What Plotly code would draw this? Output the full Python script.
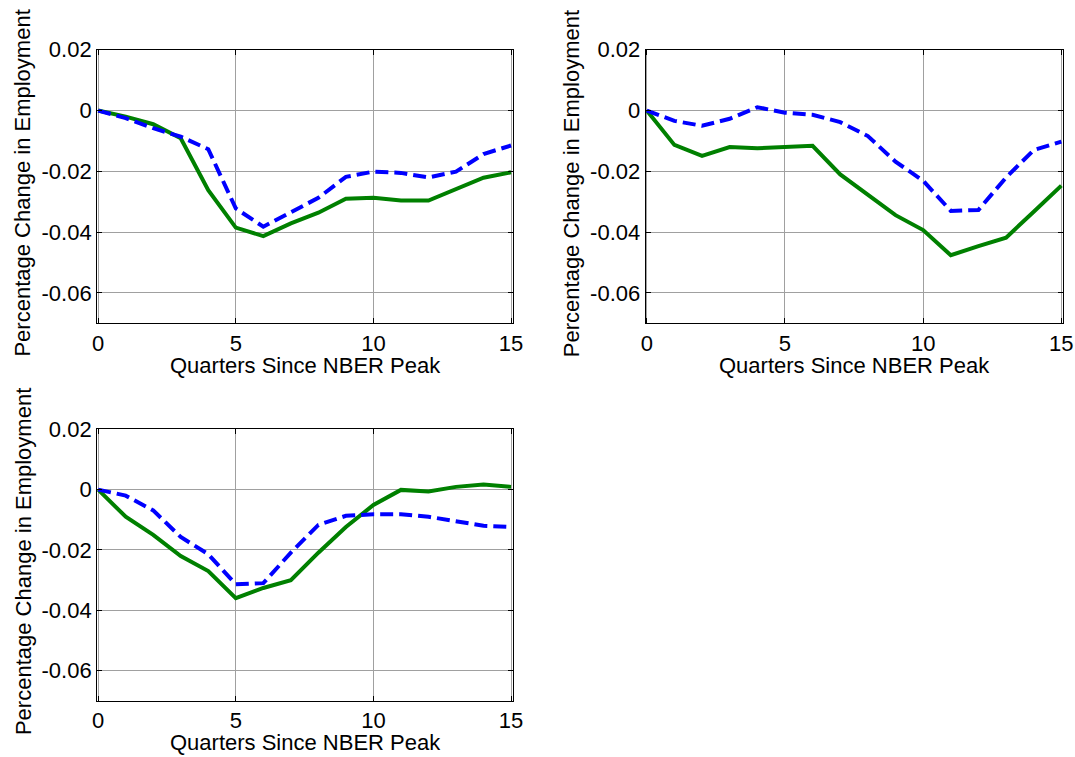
import plotly.graph_objects as go

quarters = list(range(16))

p1_solid = [0, -0.0020, -0.0045, -0.0091, -0.0262, -0.0385, -0.0413, -0.0371,
            -0.0336, -0.0290, -0.0287, -0.0296, -0.0296, -0.0260, -0.0221, -0.0203]
p1_dash = [0, -0.0025, -0.0058, -0.0086, -0.0127, -0.0322, -0.0382, -0.0336,
           -0.0287, -0.0218, -0.0201, -0.0205, -0.0220, -0.0201, -0.0143, -0.0115]

p2_solid = [0, -0.0113, -0.0149, -0.0120, -0.0124, -0.0121, -0.0116, -0.0210,
            -0.0276, -0.0344, -0.0393, -0.0476, -0.0446, -0.0418, -0.0333, -0.0247]
p2_dash = [0, -0.0034, -0.0050, -0.0027, 0.0011, -0.0007, -0.0014, -0.0038,
           -0.0084, -0.0168, -0.0231, -0.0330, -0.0327, -0.0220, -0.0130, -0.0102]

p3_solid = [0, -0.0090, -0.0150, -0.0220, -0.0270, -0.0360, -0.0326, -0.0300,
            -0.0209, -0.0124, -0.0051, -0.0001, -0.0006, 0.0009, 0.0017, 0.0009]
p3_dash = [0, -0.0020, -0.0069, -0.0157, -0.0214, -0.0314, -0.0310, -0.0209,
           -0.0117, -0.0087, -0.0082, -0.0082, -0.0090, -0.0104, -0.0120, -0.0124]

x_ticks = [0, 5, 10, 15]
y_ticks = [-0.06, -0.04, -0.02, 0, 0.02]
y_tick_labels = ["-0.06", "-0.04", "-0.02", "0", "0.02"]
x_title = "Quarters Since NBER Peak"
y_title = "Percentage Change in Employment"

W, H = 1075, 757
FONT = "Liberation Sans, Arial, sans-serif"
FS = 22
GREEN = "#008000"
BLUE = "#0000FF"

# compensation for how the page ends up in the photo
S, OX, OY = 0.9855, 3.0, 10.5
def px(v):
    return (v - OX) / S
def py(v):
    return (v - OY) / S

# target pixel boxes of panels: (left, right, top, bottom)
boxes = [(95, 510.7, 48.3, 322.3), (643.3, 1060.7, 48.3, 322.3), (95, 510.7, 428.3, 700.3)]
panels = [(p1_solid, p1_dash), (p2_solid, p2_dash), (p3_solid, p3_dash)]

fig = go.Figure()
for i, ((solid, dash), (l, r, t, b)) in enumerate(zip(panels, boxes)):
    n = "" if i == 0 else str(i + 1)
    xa, ya = "x" + n, "y" + n
    fig.add_trace(go.Scatter(x=quarters, y=solid, mode="lines", xaxis=xa, yaxis=ya,
                             line=dict(color=GREEN, width=4), showlegend=False))
    fig.add_trace(go.Scatter(x=quarters, y=dash, mode="lines", xaxis=xa, yaxis=ya,
                             line=dict(color=BLUE, width=4, dash="13px,6px"), showlegend=False))
    axcommon = dict(showline=True, linecolor="black", linewidth=1, mirror="ticks",
                    ticks="inside", ticklen=5, tickcolor="black",
                    showgrid=True, gridcolor="#a0a0a0", gridwidth=1, zeroline=False,
                    tickfont=dict(family=FONT, size=FS, color="black"))
    fig.update_layout(**{
        "xaxis" + n: dict(domain=[px(l) / W, px(r) / W], range=[-0.04, 15.07], tickvals=x_ticks,
                          anchor=ya, **axcommon),
        "yaxis" + n: dict(domain=[1 - py(b) / H, 1 - py(t) / H], range=[-0.07, 0.02],
                          tickvals=y_ticks, ticktext=y_tick_labels, anchor=xa, **axcommon),
    })
    fig.add_annotation(text=x_title, xref="paper", yref="paper", x=px((l + r) / 2) / W,
                       y=1 - py(b + 42) / H, xanchor="center", yanchor="middle", showarrow=False,
                       font=dict(family=FONT, size=FS, color="black"))
    fig.add_annotation(text=y_title, xref="paper", yref="paper", x=px(l - 74) / W,
                       y=1 - py((t + b) / 2 - 3) / H, xanchor="center", yanchor="middle",
                       textangle=-90, showarrow=False,
                       font=dict(family=FONT, size=FS, color="black"))

fig.update_layout(width=W, height=H, autosize=False, margin=dict(l=0, r=0, t=0, b=0),
                  paper_bgcolor="white", plot_bgcolor="white", showlegend=False)

fig.write_html("out.html", config={"displayModeBar": False},
               post_script="document.body.style.margin='0';"
                           "document.documentElement.style.overflow='hidden';"
                           "document.body.style.overflow='hidden';")
